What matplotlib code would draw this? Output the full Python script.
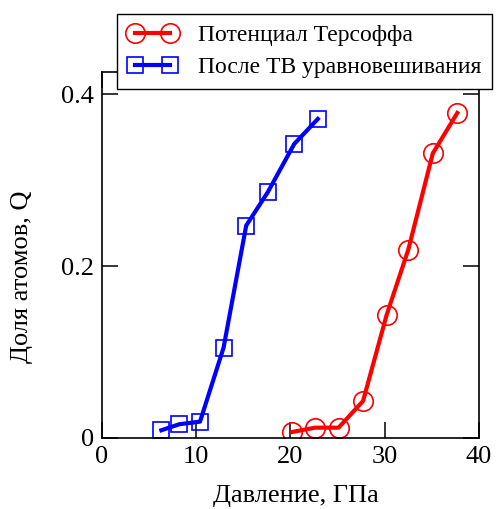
import matplotlib.pyplot as plt

# pressure (GPa) and fraction of atoms Q
tersoff_p = [20.2, 22.6, 25.1, 27.7, 30.2, 32.5, 35.1, 37.7]
tersoff_q = [0.007, 0.012, 0.012, 0.043, 0.143, 0.219, 0.331, 0.378]
tb_p = [6.3, 8.2, 10.4, 12.9, 15.3, 17.6, 20.4, 22.9]
tb_q = [0.009, 0.016, 0.019, 0.105, 0.247, 0.286, 0.342, 0.371]

x_ticks = [0, 10, 20, 30, 40]
y_ticks = [0, 0.2, 0.4]
y_tick_labels = ['0', '0.2', '0.4']

plt.rcParams['font.family'] = ['Liberation Serif', 'DejaVu Serif']

fig = plt.figure(figsize=(4.98, 5.09), dpi=100)
ax = fig.add_axes([0.2048, 0.1395, 0.757, 0.719])

l1, = ax.plot(tersoff_p, tersoff_q, '-o', color='#ff0000', lw=3, ms=14,
              mfc='none', mec='#ff0000', mew=1.2, label='Потенциал Терсоффа')
l2, = ax.plot(tb_p, tb_q, '-s', color='#0000ff', lw=3, ms=12,
              mfc='none', mec='#0000ff', mew=1.2, label='После ТВ уравновешивания')

ax.set_xlim(0, 40)
ax.set_ylim(0, 0.4256)
ax.set_xticks(x_ticks)
ax.set_yticks(y_ticks, y_tick_labels)
ax.tick_params(direction='in', length=11.5, width=1.1, labelsize=19,
               top=True, right=True, pad=6)
for s in ax.spines.values():
    s.set_linewidth(1.2)

ax.set_xlabel('Давление, ГПа', fontsize=19)
ax.set_ylabel('Доля атомов, Q', fontsize=19)
ax.xaxis.set_label_coords(0.515, -0.128)
ax.yaxis.set_label_coords(-0.183, 0.44)

leg = ax.legend(handles=[l1, l2], loc='upper left',
                bbox_to_anchor=(117 / 498, 1 - 14 / 509),
                bbox_transform=fig.transFigure, borderaxespad=0,
                fontsize=17, numpoints=2, handlelength=2.1,
                frameon=True, fancybox=False, edgecolor='black',
                framealpha=1, borderpad=0.45, labelspacing=0.45,
                handletextpad=0.9)
leg.get_frame().set_linewidth(1.0)

fig.savefig('out.png', dpi=100)
